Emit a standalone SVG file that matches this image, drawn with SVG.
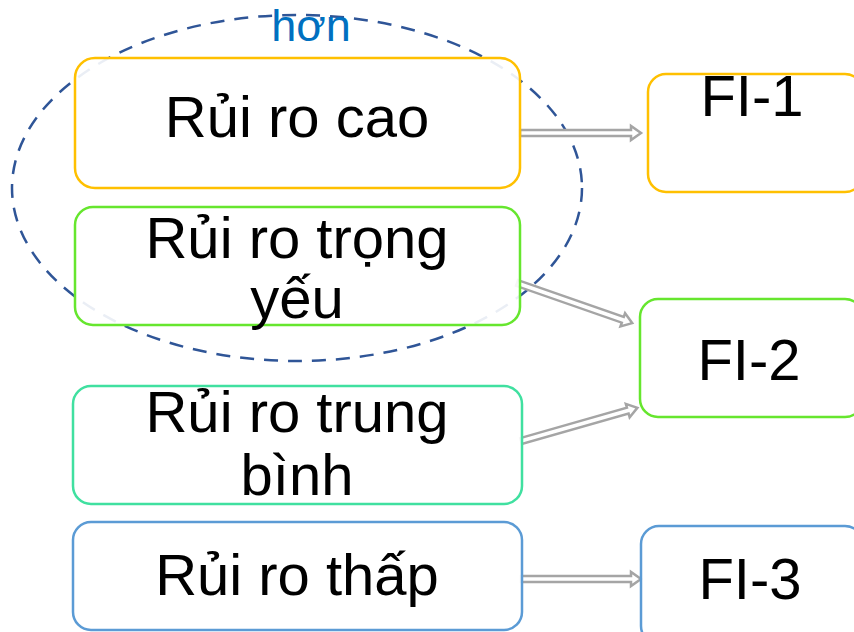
<svg xmlns="http://www.w3.org/2000/svg" width="854" height="632" viewBox="0 0 854 632">
<style>
.box{fill:#ffffff;fill-opacity:0.9;stroke-width:2.5}
.t{font-family:"Liberation Sans",Arial,sans-serif;font-size:58px;fill:#000;text-anchor:middle}
.arr{fill:#ffffff;stroke:#A5A5A5;stroke-width:2.5;stroke-linejoin:miter}
.orange{stroke:#FFC000}
.green{stroke:#66E62E}
.teal{stroke:#40E0A0}
.blue{stroke:#5B9BD5}
</style>
<rect width="854" height="632" fill="#ffffff"/>
<g id="group-ellipse">
<ellipse cx="297" cy="188" rx="285" ry="173" fill="none" stroke="#2F5597" stroke-width="2.5" stroke-dasharray="14 10"/>
<text x="311" y="41" font-family="'Liberation Sans',Arial,sans-serif" font-size="45" fill="#0070C0" text-anchor="middle">hơn</text>
</g>
<g id="connectors">
<g transform="translate(520,133)"><path class="arr" d="M0,-3 H111 V-7 L121,0 L111,7 V3 H0 Z"/></g>
<g transform="translate(517,283) rotate(19.2)"><path class="arr" d="M0,-3 H112 V-7 L122,0 L112,7 V3 H0 Z"/></g>
<g transform="translate(521,441) rotate(-15.9)"><path class="arr" d="M0,-3 H111 V-7 L121,0 L111,7 V3 H0 Z"/></g>
<g transform="translate(521,579)"><path class="arr" d="M0,-3 H110 V-7 L120,0 L110,7 V3 H0 Z"/></g>
</g>
<g id="node-cao">
<rect class="box orange" x="75" y="58" width="445" height="130" rx="20"/>
<text class="t" x="297" y="137">Rủi ro cao</text>
</g>
<g id="node-trongyeu">
<rect class="box green" x="75" y="207" width="445" height="118" rx="18"/>
<text class="t" x="297" y="258">Rủi ro trọng</text>
<text class="t" x="297" y="318">yếu</text>
</g>
<g id="node-trungbinh">
<rect class="box teal" x="73" y="386" width="449" height="118" rx="18"/>
<text class="t" x="297" y="432">Rủi ro trung</text>
<text class="t" x="297" y="495">bình</text>
</g>
<g id="node-thap">
<rect class="box blue" x="73" y="522" width="449" height="108" rx="18"/>
<text class="t" x="297" y="595">Rủi ro thấp</text>
</g>
<g id="node-fi1">
<rect class="box orange" x="648" y="74" width="215" height="118" rx="18"/>
<text class="t" x="752" y="116">FI-1</text>
</g>
<g id="node-fi2">
<rect class="box green" x="640" y="299" width="223" height="118" rx="18"/>
<text class="t" x="749" y="380">FI-2</text>
</g>
<g id="node-fi3">
<rect class="box blue" x="641" y="526" width="222" height="118" rx="18"/>
<text class="t" x="750" y="599">FI-3</text>
</g>
</svg>
